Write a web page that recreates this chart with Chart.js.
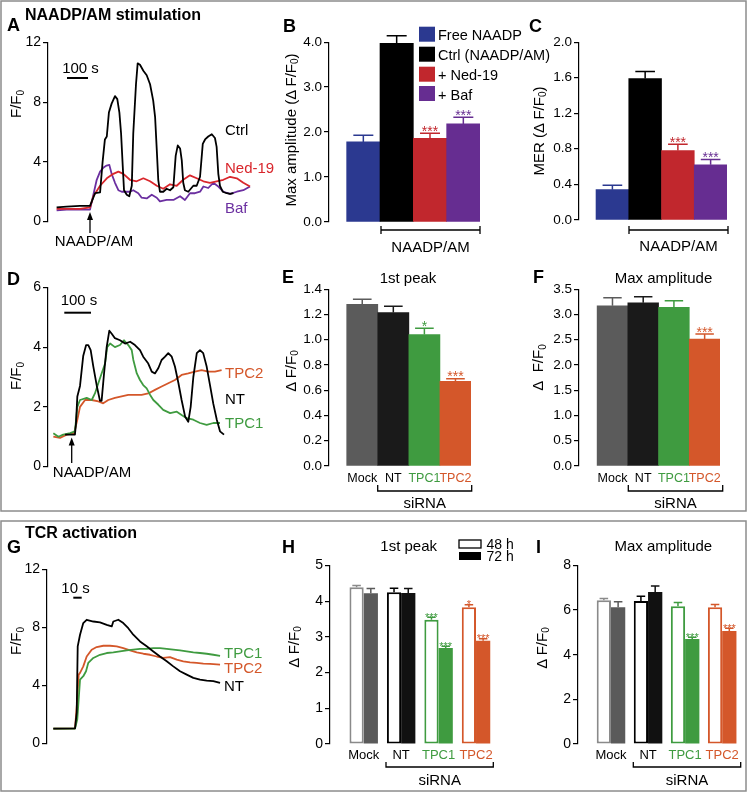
<!DOCTYPE html>
<html>
<head>
<meta charset="utf-8">
<title>NAADP/AM and TCR Ca2+ responses</title>
<script src="https://cdn.jsdelivr.net/npm/chart.js@4.4.1/dist/chart.umd.min.js"></script>
<style>
  html, body { margin: 0; padding: 0; background: #fff; }
  #fig { position: relative; width: 747px; height: 793px; overflow: hidden; }
  #fig canvas { position: absolute; }
  #ann { position: absolute; left: 0; top: 0; pointer-events: none;
         font-family: 'Liberation Sans', Arial, sans-serif; }
  #ann text { fill: #000; font-size: 15px; }
  #ann .big { font-weight: bold; font-size: 18px; }
  #ann .ttl { font-weight: bold; font-size: 16px; }
  #ann .leg { font-size: 14.5px; }
  #ann .sub { font-size: 10px; }
</style>
</head>
<body>
<div id="fig">
  <canvas id="chartA" width="252" height="200" style="left:8px;top:32px"></canvas>
  <canvas id="chartB" width="198" height="200" style="left:284px;top:32px"></canvas>
  <canvas id="chartC" width="195" height="198" style="left:534px;top:32px"></canvas>
  <canvas id="chartD" width="256" height="200" style="left:8px;top:277px"></canvas>
  <canvas id="chartE" width="197" height="217" style="left:284px;top:279px"></canvas>
  <canvas id="chartF" width="196" height="217" style="left:534px;top:279px"></canvas>
  <canvas id="chartG" width="250" height="195" style="left:7px;top:559px"></canvas>
  <canvas id="chartH" width="211" height="225" style="left:290px;top:555px"></canvas>
  <canvas id="chartI" width="209" height="225" style="left:538px;top:555px"></canvas>

  <svg id="ann" width="747" height="793" viewBox="0 0 747 793">
    <rect x="1" y="1" width="745" height="510" fill="none" stroke="#8c8c8c" stroke-width="1.5"/>
    <rect x="1" y="521" width="745" height="270" fill="none" stroke="#8c8c8c" stroke-width="1.5"/>

    <!-- panel letters and titles -->
    <text class="ttl" x="25" y="20">NAADP/AM stimulation</text>
    <text class="ttl" x="25" y="538">TCR activation</text>
    <text class="big" x="7" y="31">A</text>
    <text class="big" x="283" y="32">B</text>
    <text class="big" x="529" y="32">C</text>
    <text class="big" x="7" y="285">D</text>
    <text class="big" x="282" y="283">E</text>
    <text class="big" x="533" y="283">F</text>
    <text class="big" x="7" y="553">G</text>
    <text class="big" x="282" y="553">H</text>
    <text class="big" x="536" y="553">I</text>
    <text x="408" y="283" text-anchor="middle">1st peak</text>
    <text x="663.5" y="283" text-anchor="middle">Max amplitude</text>
    <text x="408.7" y="551" text-anchor="middle">1st peak</text>
    <text x="663.3" y="551" text-anchor="middle">Max amplitude</text>

    <!-- axis titles -->
    <text transform="translate(15.5,104) rotate(-90)" text-anchor="middle" dominant-baseline="central">F/F<tspan class="sub" dy="4">0</tspan></text>
    <text transform="translate(290,130) rotate(-90)" text-anchor="middle" dominant-baseline="central">Max amplitude (Δ F/F<tspan class="sub" dy="4">0</tspan><tspan dy="-4">)</tspan></text>
    <text transform="translate(538,131) rotate(-90)" text-anchor="middle" dominant-baseline="central">MER (Δ F/F<tspan class="sub" dy="4">0</tspan><tspan dy="-4">)</tspan></text>
    <text transform="translate(15.5,376) rotate(-90)" text-anchor="middle" dominant-baseline="central">F/F<tspan class="sub" dy="4">0</tspan></text>
    <text transform="translate(290,371) rotate(-90)" text-anchor="middle" dominant-baseline="central">Δ F/F<tspan class="sub" dy="4">0</tspan></text>
    <text transform="translate(537.5,367.5) rotate(-90)" text-anchor="middle" dominant-baseline="central">Δ&#160; F/F<tspan class="sub" dy="4">0</tspan></text>
    <text transform="translate(15.5,641) rotate(-90)" text-anchor="middle" dominant-baseline="central">F/F<tspan class="sub" dy="4">0</tspan></text>
    <text transform="translate(293,647) rotate(-90)" text-anchor="middle" dominant-baseline="central">Δ F/F<tspan class="sub" dy="4">0</tspan></text>
    <text transform="translate(541,648) rotate(-90)" text-anchor="middle" dominant-baseline="central">Δ F/F<tspan class="sub" dy="4">0</tspan></text>

    <!-- trace annotations -->
    <text x="80.5" y="73" text-anchor="middle">100 s</text>
    <line x1="67" y1="78" x2="88" y2="78" stroke="#000" stroke-width="2"/>
    <line x1="90" y1="233" x2="90" y2="218" stroke="#000" stroke-width="1.3"/>
    <polygon points="90,212 87,220 93,220" fill="#000"/>
    <text x="94" y="246" text-anchor="middle">NAADP/AM</text>
    <text x="225" y="135">Ctrl</text>
    <text x="225" y="172.7" style="fill:#d9262c">Ned-19</text>
    <text x="225" y="212.7" style="fill:#6b2fa0">Baf</text>

    <text x="79" y="305" text-anchor="middle">100 s</text>
    <line x1="64.3" y1="312.7" x2="91" y2="312.7" stroke="#000" stroke-width="2"/>
    <line x1="71.7" y1="463" x2="71.7" y2="443" stroke="#000" stroke-width="1.3"/>
    <polygon points="71.7,437.5 68.7,445.5 74.7,445.5" fill="#000"/>
    <text x="92" y="477" text-anchor="middle">NAADP/AM</text>
    <text x="225" y="378" style="fill:#d4572a">TPC2</text>
    <text x="225" y="404">NT</text>
    <text x="225" y="428.3" style="fill:#3f9b40">TPC1</text>

    <text x="75.5" y="593" text-anchor="middle">10 s</text>
    <line x1="73.3" y1="597.7" x2="81.7" y2="597.7" stroke="#000" stroke-width="2"/>
    <text x="224" y="658.3" style="fill:#3f9b40">TPC1</text>
    <text x="224" y="673.3" style="fill:#d4572a">TPC2</text>
    <text x="224" y="690.7">NT</text>

    <!-- legend B -->
    <rect x="419" y="26.7" width="16" height="15" fill="#2b3990"/>
    <rect x="419" y="46.7" width="16" height="15" fill="#000"/>
    <rect x="419" y="66.7" width="16" height="15" fill="#c1272d"/>
    <rect x="419" y="86" width="16" height="15" fill="#662d91"/>
    <text class="leg" x="438" y="40">Free NAADP</text>
    <text class="leg" x="438" y="60">Ctrl (NAADP/AM)</text>
    <text class="leg" x="438" y="80">+ Ned-19</text>
    <text class="leg" x="438" y="99.5">+ Baf</text>

    <!-- legend H -->
    <rect x="459" y="540" width="22" height="8" fill="#fff" stroke="#000" stroke-width="1.3"/>
    <rect x="459" y="552" width="22" height="8" fill="#000"/>
    <text x="486.5" y="548.5" style="font-size:14px">48 h</text>
    <text x="486.5" y="560.5" style="font-size:14px">72 h</text>

    <!-- brackets -->
    <path d="M381,226 V234 M381,230 H480 M480,226 V234" stroke="#000" stroke-width="1.3" fill="none"/>
    <text x="430.5" y="252" text-anchor="middle">NAADP/AM</text>
    <path d="M629,226 V234 M629,230 H728 M728,226 V234" stroke="#000" stroke-width="1.3" fill="none"/>
    <text x="678.5" y="251" text-anchor="middle">NAADP/AM</text>
    <path d="M377.7,485 V491 H471.7 V485" stroke="#000" stroke-width="1.3" fill="none"/>
    <text x="424.7" y="508" text-anchor="middle">siRNA</text>
    <path d="M628.3,485 V491 H722.7 V485" stroke="#000" stroke-width="1.3" fill="none"/>
    <text x="675.5" y="508" text-anchor="middle">siRNA</text>
    <path d="M386,762 V767 H493.3 V762" stroke="#000" stroke-width="1.3" fill="none"/>
    <text x="439.7" y="785" text-anchor="middle">siRNA</text>
    <path d="M633.3,762 V767 H740.7 V762" stroke="#000" stroke-width="1.3" fill="none"/>
    <text x="687" y="785" text-anchor="middle">siRNA</text>
  </svg>
</div>

<script>
// ---- A: NAADP/AM traces (time in s, F/F0) ----
const aCtrlT = [41,89,152,200,213,224,248,260,271,280,290,303,319,330,340,348,356,362,375,387,399,406,419,427,438,454,470,486,501,510,518,525,533,549,565,581,597,608,618,629,637,644,652,668,692,708,724,737,748,763,780,795,803,811,819,832,851,867,883];
const aCtrlV = [0.95,1.0,1.05,1.05,1.5,1.9,1.95,4.0,5.5,5.7,7.3,7.9,8.4,8.2,7.3,5.9,3.7,2.1,1.8,1.7,2.4,5.9,9.2,10.6,10.5,10.1,9.8,9.2,8.1,7.0,4.8,2.8,2.0,2.0,2.2,2.1,2.3,4.4,5.1,4.9,4.1,2.6,2.1,2.0,2.4,2.4,3.0,5.2,5.5,5.7,5.85,5.6,5.0,3.2,2.4,2.0,1.9,1.85,1.9];
const aNedT = [41,152,200,216,248,280,311,335,359,390,422,454,486,518,549,581,613,644,676,708,740,771,803,835,867,899,930,962];
const aNedV = [0.85,0.85,0.95,1.7,2.4,2.9,3.2,3.35,3.2,2.8,2.7,2.9,2.7,2.4,2.2,2.5,2.4,2.8,3.1,2.9,2.7,2.6,2.7,2.8,3.0,2.9,2.6,2.35];
const aBafT = [41,89,152,200,216,232,248,263,279,292,303,319,335,351,367,390,406,430,446,470,494,518,533,565,597,629,652,676,700,724,740,763,787,811,835,867,899,930,962];
const aBafV = [0.75,0.8,0.8,0.8,1.8,2.8,3.35,3.6,3.75,3.8,3.2,2.6,2.1,2.0,2.0,2.0,2.1,1.9,1.6,1.55,1.8,1.6,1.35,1.45,1.45,1.7,1.45,1.9,1.9,2.0,2.35,2.25,2.6,2.35,2.0,1.85,2.0,2.1,2.35];
const aTicks = [0,4,8,12];

// ---- B / C: NAADP/AM bars ----
const bLabels = ['Free NAADP','Ctrl (NAADP/AM)','+ Ned-19','+ Baf'];
const bMean = [1.78,3.97,1.86,2.18];
const bSem = [0.15,0.17,0.11,0.15];
const bStars = ['','','***','***'];
const bTicks = [0,1,2,3,4];
const cMean = [0.34,1.59,0.78,0.62];
const cSem = [0.05,0.08,0.07,0.06];
const cStars = ['','','***','***'];
const cTicks = [0,0.4,0.8,1.2,1.6,2.0];

// ---- D: siRNA traces ----
const dNtT = [64,101,105,110,120,132,143,151,160,170,183,195,201,210,220,230,239,251,270,289,308,326,345,357,376,389,401,414,426,439,451,464,476,489,501,514,526,535,545,558,570,582,595,608,620,633,645,660];
const dNtV = [1.07,1.07,1.45,2.35,2.7,3.7,4.07,4.07,3.9,3.35,2.7,2.2,2.2,3.1,4.0,4.55,4.45,4.3,4.23,4.12,4.18,4.07,3.9,3.68,3.45,3.18,3.12,3.3,3.57,3.68,3.8,3.68,3.35,2.8,2.23,1.68,1.5,2.0,3.0,3.8,3.9,3.8,3.35,2.7,2.1,1.57,1.18,1.07];
const dTpc1T = [20,39,57,83,101,110,120,145,164,176,189,201,214,222,233,251,270,285,301,314,320,333,345,357,370,383,395,414,432,458,483,501,520,545,570,595,620,645];
const dTpc1V = [1.12,1.0,1.07,1.12,1.18,2.0,2.23,2.3,2.23,2.45,2.8,3.12,3.45,4.0,4.12,4.0,4.07,4.23,4.07,3.9,3.57,3.12,2.9,2.73,2.62,2.4,2.23,2.07,1.9,1.79,1.84,1.73,1.62,1.57,1.46,1.4,1.46,1.46];
const dTpc2T = [20,45,70,98,110,120,139,164,189,207,226,251,276,301,326,351,376,401,426,451,476,501,526,551,576,601,626,651];
const dTpc2V = [1.0,0.96,1.07,1.12,1.57,2.0,2.23,2.23,2.18,2.12,2.23,2.3,2.35,2.4,2.4,2.4,2.45,2.57,2.68,2.79,2.9,3.07,3.12,3.18,3.23,3.18,3.18,3.23];
const dTicks = [0,2,4,6];

// ---- E / F: siRNA bars ----
const siCats = ['Mock','NT','TPC1','TPC2'];
const eMean = [1.28,1.215,1.04,0.67];
const eSem = [0.04,0.05,0.05,0.02];
const eStars = ['','','*','***'];
const eTicks = [0,0.2,0.4,0.6,0.8,1.0,1.2,1.4];
const fMean = [3.17,3.23,3.14,2.51];
const fSem = [0.16,0.12,0.13,0.10];
const fStars = ['','','','***'];
const fTicks = [0,0.5,1.0,1.5,2.0,2.5,3.0,3.5];

// ---- G: TCR traces ----
const gNtT = [7.6,33.7,35.7,36.9,39.7,43.6,47.7,55.7,63.7,71.8,77.8,79.7,85.7,91.7,97.7,103.7,111.8,119.8,127.8,135.8,143.9,151.8,159.9,167.9,175.9,183.9,192,199.9,208];
const gNtV = [1.03,1.05,2.13,6.7,7.5,8.3,8.53,8.41,8.35,8.18,8.07,8.41,8.53,8.3,7.95,7.5,7.04,6.7,6.35,6.0,5.67,5.32,4.98,4.75,4.53,4.41,4.34,4.3,4.18];
const gTpc1T = [7.6,33.7,36.4,39.7,43.6,46.9,49.6,55.7,63.7,71.8,79.7,87.7,95.8,103.7,111.8,119.8,127.8,135.8,143.9,151.8,159.9,167.9,175.9,183.9,192,199.9,208];
const gTpc1V = [1.03,1.03,1.67,4.41,4.64,4.98,5.56,5.9,6.12,6.24,6.28,6.35,6.42,6.47,6.52,6.52,6.58,6.58,6.52,6.47,6.42,6.35,6.28,6.24,6.19,6.12,6.05];
const gTpc2T = [7.6,33.7,36.4,38.1,39.7,43.6,47.7,53.7,59.7,67.7,75.7,83.8,91.7,99.8,107.8,115.8,123.8,131.9,139.8,147.8,155.9,163.8,171.9,179.9,187.9,195.9,208];
const gTpc2V = [1.03,1.05,3.04,4.75,4.87,5.32,6.0,6.47,6.65,6.74,6.74,6.7,6.58,6.42,6.28,6.19,6.12,6.0,5.9,5.96,5.78,5.67,5.6,5.56,5.51,5.49,5.44];
const gTicks = [0,4,8,12];

// ---- H / I: 48 h vs 72 h bars ----
const hMean48 = [4.39,4.25,3.48,3.83];
const hSem48 = [0.05,0.11,0.07,0.07];
const hStars48 = ['','','***','*'];
const hMean72 = [4.22,4.23,2.69,2.89];
const hSem72 = [0.13,0.12,0.05,0.06];
const hStars72 = ['','','***','***'];
const hTicks = [0,1,2,3,4,5];
const iMean48 = [6.44,6.40,6.17,6.12];
const iSem48 = [0.08,0.22,0.17,0.13];
const iStars48 = ['','','',''];
const iMean72 = [6.12,6.81,4.70,5.06];
const iSem72 = [0.25,0.27,0.08,0.12];
const iStars72 = ['','','***','***'];
const iTicks = [0,2,4,6,8];

const BLUE = '#2b3990', RED = '#c1272d', PURPLE = '#662d91';
const GREEN = '#3f9b40', ORANGE = '#d4572a';
const FONT = "'Liberation Sans', Arial, sans-serif";

Chart.defaults.font.family = FONT;
Chart.defaults.color = '#000';
Chart.defaults.animation = false;
Chart.defaults.plugins.legend.display = false;
Chart.defaults.plugins.tooltip.enabled = false;

// error bars (upward SEM) and significance stars
const errorBars = {
  id: 'errorBars',
  afterDatasetsDraw(chart, args, opts) {
    const ctx = chart.ctx, ys = chart.scales.y;
    chart.data.datasets.forEach((ds, di) => {
      if (!ds.sem) return;
      chart.getDatasetMeta(di).data.forEach((bar, i) => {
        const top = ys.getPixelForValue(ds.data[i].y + ds.sem[i]);
        const col = Array.isArray(ds.errColor) ? ds.errColor[i] : ds.errColor;
        const half = bar.width * 0.3;
        ctx.save();
        ctx.strokeStyle = col;
        ctx.lineWidth = 1.5;
        ctx.beginPath();
        ctx.moveTo(bar.x, bar.y);
        ctx.lineTo(bar.x, top);
        ctx.moveTo(bar.x - half, top);
        ctx.lineTo(bar.x + half, top);
        ctx.stroke();
        if (ds.stars && ds.stars[i]) {
          ctx.fillStyle = col;
          ctx.font = opts.starSize + 'px ' + FONT;
          ctx.textAlign = 'center';
          ctx.textBaseline = 'alphabetic';
          ctx.fillText(ds.stars[i], bar.x, top + opts.starDy);
        }
        ctx.restore();
      });
    });
  }
};

function pts(t, v) {
  return t.map((x, i) => ({ x: x, y: v[i] }));
}

function yScale(ticks, digits, width, size) {
  return {
    type: 'linear',
    min: ticks[0],
    max: ticks[ticks.length - 1],
    afterBuildTicks: s => { s.ticks = ticks.map(v => ({ value: v })); },
    afterFit: s => { s.width = width; },
    border: { display: true, color: '#000', width: 1.2 },
    grid: { drawOnChartArea: false, drawTicks: true, tickLength: 5, color: '#000', lineWidth: 1.2 },
    ticks: { autoSkip: false, padding: 2, color: '#000', font: { size: size },
             callback: v => v.toFixed(digits) }
  };
}

function traceChart(id, series, xMax, yTicks) {
  new Chart(document.getElementById(id), {
    type: 'line',
    data: {
      datasets: series.map(s => ({
        data: pts(s.t, s.v), borderColor: s.color, borderWidth: 1.8,
        pointRadius: 0, tension: 0, borderJoinStyle: 'round'
      }))
    },
    options: {
      responsive: false,
      layout: { padding: { top: 10, bottom: 10, left: 0, right: 2 } },
      scales: {
        x: { type: 'linear', min: 0, max: xMax, display: false },
        y: yScale(yTicks, 0, 40, 14)
      }
    }
  });
}

function barChart(id, o) {
  new Chart(document.getElementById(id), {
    type: 'bar',
    data: {
      datasets: o.sets.map(s => ({
        data: s.mean.map((m, i) => ({ x: i, y: m })),
        backgroundColor: s.fill,
        borderColor: s.line || s.fill,
        borderWidth: s.bw || 0,
        borderSkipped: false,
        sem: s.sem, stars: s.stars, errColor: s.line || s.fill,
        categoryPercentage: o.catPct, barPercentage: 1
      }))
    },
    options: {
      responsive: false,
      layout: { padding: { top: 10, bottom: o.showCats ? 0 : 10, left: 0, right: o.showCats ? 10 : 2 } },
      scales: {
        x: {
          type: 'linear', min: o.xMin, max: o.xMax, offset: false, display: o.showCats,
          afterBuildTicks: s => { s.ticks = o.cats.map((c, i) => ({ value: i })); },
          afterFit: s => { s.height = o.xh; },
          grid: { display: false, drawTicks: false },
          border: { display: false },
          ticks: { autoSkip: false, maxRotation: 0, padding: o.pad, font: { size: o.catSize },
                   color: c => o.catColors[c.index], callback: (v, i) => o.cats[i] }
        },
        y: yScale(o.yTicks, o.digits, o.yw, o.tickSize)
      },
      plugins: { errorBars: { starSize: o.starSize, starDy: o.starDy } }
    },
    plugins: [errorBars]
  });
}

traceChart('chartA', [
  { t: aCtrlT, v: aCtrlV, color: '#000000' },
  { t: aNedT, v: aNedV, color: '#d9262c' },
  { t: aBafT, v: aBafV, color: '#6b2fa0' }
], 1000, aTicks);

const bColors = [BLUE, '#000000', RED, PURPLE];
barChart('chartB', {
  cats: bLabels, catColors: bColors, showCats: false, xMin: -1.03, xMax: 3.5, catPct: 1,
  yTicks: bTicks, digits: 1, yw: 45, tickSize: 13.5, starSize: 14, starDy: 2.5, xh: 0, pad: 0, catSize: 12,
  sets: [{ mean: bMean, sem: bSem, stars: bStars, fill: bColors }]
});
barChart('chartC', {
  cats: bLabels, catColors: bColors, showCats: false, xMin: -1.02, xMax: 3.5, catPct: 1,
  yTicks: cTicks, digits: 1, yw: 45, tickSize: 13.5, starSize: 14, starDy: 2.5, xh: 0, pad: 0, catSize: 12,
  sets: [{ mean: cMean, sem: cSem, stars: cStars, fill: bColors }]
});

traceChart('chartD', [
  { t: dNtT, v: dNtV, color: '#000000' },
  { t: dTpc1T, v: dTpc1V, color: GREEN },
  { t: dTpc2T, v: dTpc2V, color: ORANGE }
], 802.5, dTicks);

const siLabelColors = ['#000000', '#000000', GREEN, ORANGE];
const siFill = ['#5b5b5b', '#1a1a1a', GREEN, ORANGE];
barChart('chartE', {
  cats: siCats, catColors: siLabelColors, showCats: true, xMin: -1.07, xMax: 3.5, catPct: 1,
  yTicks: eTicks, digits: 1, yw: 45, tickSize: 13.5, starSize: 14, starDy: 2.5, xh: 30, pad: 5, catSize: 12.5,
  sets: [{ mean: eMean, sem: eSem, stars: eStars, fill: siFill }]
});
barChart('chartF', {
  cats: siCats, catColors: siLabelColors, showCats: true, xMin: -1.09, xMax: 3.5, catPct: 1,
  yTicks: fTicks, digits: 1, yw: 45, tickSize: 13.5, starSize: 14, starDy: 2.5, xh: 30, pad: 5, catSize: 12.5,
  sets: [{ mean: fMean, sem: fSem, stars: fStars, fill: siFill }]
});

traceChart('chartG', [
  { t: gNtT, v: gNtV, color: '#000000' },
  { t: gTpc1T, v: gTpc1V, color: GREEN },
  { t: gTpc2T, v: gTpc2V, color: ORANGE }
], 250, gTicks);

const line48 = ['#8a8a8a', '#000000', GREEN, ORANGE];
const fill72 = ['#5a5a5a', '#111111', GREEN, ORANGE];
barChart('chartH', {
  cats: siCats, catColors: siLabelColors, showCats: true, xMin: -0.9, xMax: 3.4, catPct: 0.76,
  yTicks: hTicks, digits: 0, yw: 40, tickSize: 14, starSize: 11, starDy: 3.5, xh: 36, pad: 4, catSize: 13,
  sets: [
    { mean: hMean48, sem: hSem48, stars: hStars48, fill: '#ffffff', line: line48, bw: 2 },
    { mean: hMean72, sem: hSem72, stars: hStars72, fill: fill72 }
  ]
});
barChart('chartI', {
  cats: siCats, catColors: siLabelColors, showCats: true, xMin: -0.89, xMax: 3.4, catPct: 0.77,
  yTicks: iTicks, digits: 0, yw: 40, tickSize: 14, starSize: 11, starDy: 3.5, xh: 36, pad: 4, catSize: 13,
  sets: [
    { mean: iMean48, sem: iSem48, stars: iStars48, fill: '#ffffff', line: line48, bw: 2 },
    { mean: iMean72, sem: iSem72, stars: iStars72, fill: fill72 }
  ]
});
</script>
</body>
</html>
